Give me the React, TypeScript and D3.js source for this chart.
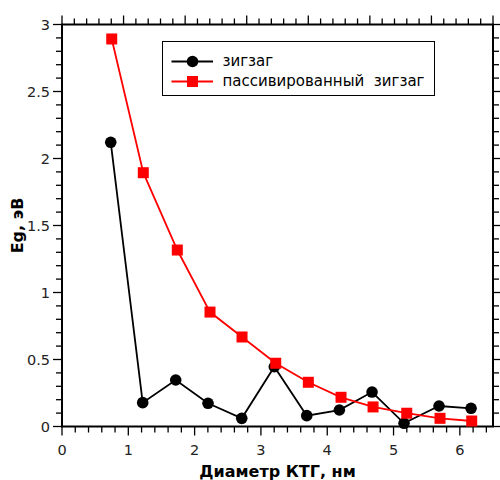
import React, { useEffect, useRef } from 'react';
import * as d3 from 'd3';

// диаметры КТГ, нм
const zigzagX = [0.735, 1.217, 1.715, 2.202, 2.711, 3.202, 3.691, 4.183, 4.676, 5.158, 5.686, 6.169];
const zigzagY = [2.121, 0.178, 0.347, 0.173, 0.061, 0.446, 0.081, 0.123, 0.257, 0.024, 0.153, 0.136];

const passX = [0.75, 1.226, 1.739, 2.232, 2.715, 3.223, 3.715, 4.208, 4.691, 5.199, 5.701, 6.179];
const passY = [2.892, 1.894, 1.317, 0.854, 0.668, 0.472, 0.33, 0.218, 0.146, 0.099, 0.061, 0.041];

const xTickLabels = [0, 1, 2, 3, 4, 5, 6];
const yTickLabels = [0, 0.5, 1, 1.5, 2, 2.5, 3];
const seriesNames = ['зигзаг', 'пассивированный  зигзаг'];

const App = () => {
  const ref = useRef<SVGSVGElement | null>(null);

  useEffect(() => {
    const width = 500;
    const height = 480;
    const left = 62, right = 493, top = 24.5, bottom = 426.5;
    const font = 'DejaVu Sans, Verdana, sans-serif';

    const svg = d3.select(ref.current);
    svg.selectAll('*').remove();
    svg.attr('width', width).attr('height', height);

    const x = d3.scaleLinear().domain([0, 6.5]).range([left, right]);
    // верхняя ось идёт по своей шкале
    const xTop = d3.scaleLinear().domain([0, 7]).range([left, right]);
    const y = d3.scaleLinear().domain([0, 3]).range([bottom, top]);

    const minorX = d3.range(0, 6.5001, 0.2).map(v => +v.toFixed(2));
    const minorXTop = d3.range(0, 7.0001, 0.2).map(v => +v.toFixed(2));
    const minorY = d3.range(0, 3.0001, 0.1).map(v => +v.toFixed(2));
    const isMajor = (v: number, step: number) => Math.abs(v / step - Math.round(v / step)) < 1e-6;

    const ticks = svg.append('g').attr('stroke', '#000').attr('stroke-width', 1.3);

    // нижняя ось
    ticks.selectAll('line.bx').data(minorX).enter().append('line')
      .attr('x1', d => x(d)).attr('x2', d => x(d))
      .attr('y1', bottom).attr('y2', d => bottom + (isMajor(d, 1) ? 9 : 6));
    // верхняя ось
    ticks.selectAll('line.tx').data(minorXTop).enter().append('line')
      .attr('x1', d => xTop(d)).attr('x2', d => xTop(d))
      .attr('y1', top).attr('y2', d => top - (isMajor(d, 1) ? 9 : 6));
    // левая ось
    ticks.selectAll('line.ly').data(minorY).enter().append('line')
      .attr('y1', d => y(d)).attr('y2', d => y(d))
      .attr('x1', left).attr('x2', d => left - (isMajor(d, 0.5) ? 9 : 6));
    // правая ось
    ticks.selectAll('line.ry').data(minorY).enter().append('line')
      .attr('y1', d => y(d)).attr('y2', d => y(d))
      .attr('x1', right).attr('x2', d => right + (isMajor(d, 0.5) ? 9 : 6));

    svg.append('rect')
      .attr('x', left).attr('y', top)
      .attr('width', right - left).attr('height', bottom - top)
      .attr('fill', 'none').attr('stroke', '#000').attr('stroke-width', 2);

    // подписи делений
    svg.append('g').selectAll('text').data(xTickLabels).enter().append('text')
      .attr('x', d => x(d)).attr('y', 455)
      .attr('text-anchor', 'middle')
      .attr('font-family', font).attr('font-size', 14.5).attr('fill', '#222')
      .text(d => d);

    svg.append('g').selectAll('text').data(yTickLabels).enter().append('text')
      .attr('x', 50).attr('y', d => y(d))
      .attr('dy', '0.36em')
      .attr('text-anchor', 'end')
      .attr('font-family', font).attr('font-size', 14.5).attr('fill', '#222')
      .text(d => d);

    // названия осей
    svg.append('text')
      .attr('x', (left + right) / 2).attr('y', 477)
      .attr('text-anchor', 'middle')
      .attr('font-family', font).attr('font-size', 16).attr('font-weight', 'bold')
      .text('Диаметр КТГ, нм');

    svg.append('text')
      .attr('transform', `translate(23,${(top + bottom) / 2}) rotate(-90)`)
      .attr('text-anchor', 'middle')
      .attr('font-family', font).attr('font-size', 16).attr('font-weight', 'bold')
      .text('Eg, эВ');

    const line = d3.line<[number, number]>()
      .x(d => x(d[0]))
      .y(d => y(d[1]));

    const zigzag = zigzagX.map((v, i) => [v, zigzagY[i]] as [number, number]);
    const pass = passX.map((v, i) => [v, passY[i]] as [number, number]);

    svg.append('path').datum(zigzag)
      .attr('d', line).attr('fill', 'none')
      .attr('stroke', '#000').attr('stroke-width', 1.8);
    svg.append('g').selectAll('circle').data(zigzag).enter().append('circle')
      .attr('cx', d => x(d[0])).attr('cy', d => y(d[1]))
      .attr('r', 5.8).attr('fill', '#000');

    svg.append('path').datum(pass)
      .attr('d', line).attr('fill', 'none')
      .attr('stroke', '#ff0000').attr('stroke-width', 1.8);
    svg.append('g').selectAll('rect').data(pass).enter().append('rect')
      .attr('x', d => x(d[0]) - 5.5).attr('y', d => y(d[1]) - 5.5)
      .attr('width', 11).attr('height', 11).attr('fill', '#ff0000');

    // легенда
    const legend = svg.append('g');
    legend.append('rect')
      .attr('x', 162.5).attr('y', 41.5)
      .attr('width', 272).attr('height', 54)
      .attr('fill', '#fff').attr('stroke', '#000').attr('stroke-width', 1);

    const rows = legend.selectAll('g.row').data(seriesNames).enter().append('g')
      .attr('transform', (d, i) => `translate(0,${61.5 + i * 20})`);
    rows.append('line')
      .attr('x1', 171.5).attr('x2', 213).attr('y1', 0).attr('y2', 0)
      .attr('stroke', (d, i) => (i === 0 ? '#000' : '#ff0000')).attr('stroke-width', 1.8);
    rows.filter((d, i) => i === 0).append('circle')
      .attr('cx', 192.5).attr('cy', 0).attr('r', 5.8).attr('fill', '#000');
    rows.filter((d, i) => i === 1).append('rect')
      .attr('x', 187).attr('y', -5.5).attr('width', 11).attr('height', 11).attr('fill', '#ff0000');
    rows.append('text')
      .attr('x', 222.5).attr('y', 0).attr('dy', '0.32em')
      .attr('font-family', font).attr('font-size', 15).attr('fill', '#000')
      .attr('xml:space', 'preserve').style('white-space', 'pre')
      .text(d => d);
  }, []);

  return <svg ref={ref} style={{ position: 'absolute', left: 0, top: 0 }} />;
};

export default App;
